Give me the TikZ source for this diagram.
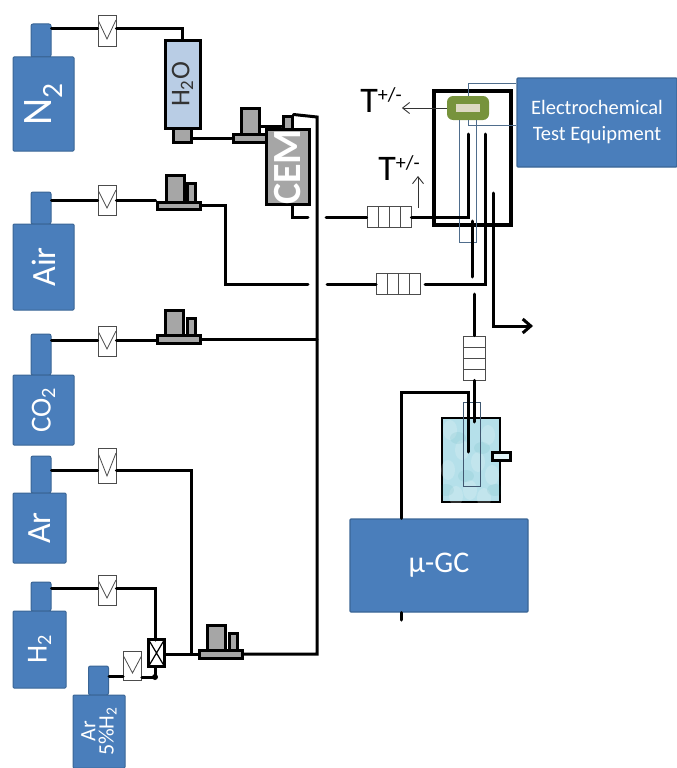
\documentclass[tikz,border=0pt]{standalone}
\usepackage{fontspec}
\setmainfont{Carlito}
\usetikzlibrary{calc,arrows.meta}
\definecolor{bluebox}{HTML}{4A7EBB}
\definecolor{blueedge}{HTML}{3A6595}
\definecolor{waterblue}{HTML}{B9CDE5}
\definecolor{bathblue}{HTML}{B5E0EA}
\definecolor{blockgray}{HTML}{A6A6A6}
\definecolor{cellgreen}{HTML}{77933C}
\definecolor{cellpale}{HTML}{DDD9C3}
\definecolor{wireblue}{HTML}{4F6D8C}
\newcommand{\tplusminus}{T\raisebox{11pt}{\fontsize{20}{20}\selectfont +/-}}
\tikzset{
  box/.style={draw, inner sep=0pt, minimum width=#1},
  bottle/.style={draw=blueedge, fill=bluebox, line width=1pt, rounded corners=1pt, inner sep=0pt, text=white},
  neckbox/.style={bottle, minimum width=20, rounded corners=2pt},
  pipe/.style={line width=3pt, line cap=round},
  thinarrow/.style={black!80, line width=0.9pt, -{Straight Barb[length=7pt,width=11pt]}},
  wire/.style={draw=wireblue, line width=1pt},
  valve/.style={draw=black!70, fill=white, line width=0.7pt, inner sep=0pt, minimum width=18,
    path picture={\draw[black!70, line width=0.8pt] ($(path picture bounding box.north west)+(0,5)$)
      -- ($(path picture bounding box.south)+(0,-7)$) -- ($(path picture bounding box.north east)+(0,5)$);}},
  crossvalve/.style={draw, fill=white, line width=3pt, inner sep=0pt, minimum width=16, minimum height=27,
    path picture={\draw[line width=1.2pt] (path picture bounding box.north west) -- (path picture bounding box.south east)
      (path picture bounding box.north east) -- (path picture bounding box.south west);}},
  greybox/.style={draw, fill=blockgray, line width=3pt, inner sep=0pt},
  tubeh/.style={draw=black!70, fill=white, line width=0.8pt, inner sep=0pt, minimum width=44, minimum height=21,
    path picture={\foreach \f in {.25,.5,.75}
      \draw[black!70, line width=0.8pt] ($(path picture bounding box.south west)!\f!(path picture bounding box.south east)$)
      -- ($(path picture bounding box.north west)!\f!(path picture bounding box.north east)$);}},
  tubev/.style={draw=black!70, fill=white, line width=0.8pt, inner sep=0pt, minimum width=22, minimum height=44,
    path picture={\foreach \f in {.25,.5,.75}
      \draw[black!70, line width=0.8pt] ($(path picture bounding box.south west)!\f!(path picture bounding box.north west)$)
      -- ($(path picture bounding box.south east)!\f!(path picture bounding box.north east)$);}},
  bigbox/.style={draw=blueedge, fill=bluebox, line width=1.2pt, rounded corners=1pt, inner sep=0pt, text=white},
}
\begin{document}
\begin{tikzpicture}[x=1pt,y=-1pt]
  \useasboundingbox (0,0) rectangle (677,768);

  % gas bottles
  \node[neckbox, minimum height=33] (neckntwo) at (41,40.5) {};
  \node[bottle, minimum width=61, minimum height=94] (ntwo) at (43.5,104)
    {\rotatebox{90}{\fontsize{42}{42}\selectfont N\textsubscript{2}}};
  \node[neckbox, minimum height=32] (neckair) at (41,208) {};
  \node[bottle, minimum width=61, minimum height=86] (air) at (43.5,267)
    {\rotatebox{90}{\fontsize{34}{34}\selectfont Air}};
  \node[neckbox, minimum height=41] (neckco) at (41,354.5) {};
  \node[bottle, minimum width=61, minimum height=70] (co) at (43.5,410)
    {\rotatebox{90}{\fontsize{29}{29}\selectfont CO\textsubscript{2}}};
  \node[neckbox, minimum height=37] (neckar) at (41,474.5) {};
  \node[bottle, minimum width=53, minimum height=70] (ar) at (39.5,528)
    {\rotatebox{90}{\fontsize{34}{34}\selectfont Ar}};
  \node[neckbox, minimum height=29] (neckh) at (41,596.5) {};
  \node[bottle, minimum width=53, minimum height=77] (h) at (39.5,649.5)
    {\rotatebox{90}{\fontsize{29}{29}\selectfont H\textsubscript{2}}};
  \node[neckbox, minimum height=29] (neckmix) at (98.5,680.5) {};
  \node[bottle, minimum width=52, minimum height=73] (mix) at (99,731.5)
    {\rotatebox{90}{\fontsize{22}{23}\selectfont\shortstack{Ar\\5\%H\textsubscript{2}}}};

  % valves
  \node[valve, minimum height=31] (valventwo) at (107,30.5) {};
  \node[valve, minimum height=30] (valveair) at (107,200) {};
  \node[valve, minimum height=30] (valveco) at (107,341) {};
  \node[valve, minimum height=35] (valvear) at (107,465.5) {};
  \node[valve, minimum height=30] (valveh) at (107,590) {};
  \node[valve, minimum height=29] (valvemix) at (132.5,665.5) {};
  \node[crossvalve] (cross) at (156.5,653) {};

  % humidifier and CEM
  \node[box=35, fill=waterblue, line width=3pt, minimum height=87, text=black!80] (water) at (182.5,84.5)
    {\rotatebox{90}{\fontsize{27}{27}\selectfont H\textsubscript{2}O}};
  \node[greybox, minimum width=18, minimum height=14] (waterout) at (182,135) {};
  \node[greybox, minimum width=9, minimum height=17] (cemtop) at (287.5,124.5) {};
  \node[greybox, minimum width=43, minimum height=68, text=white] (cem) at (287.5,167)
    {\rotatebox{90}{\fontsize{40}{40}\selectfont\bfseries\raisebox{-5pt}{CEM}}};

  % mass flow controllers
  \node[greybox, minimum width=18, minimum height=26] (mfcwaterblock) at (250,121) {};
  \node[greybox, minimum width=33, minimum height=8] (mfcwater) at (249.5,138) {};
  \node[greybox, minimum width=18, minimum height=27] (mfcairblock) at (175,188.5) {};
  \node[greybox, minimum width=8, minimum height=19] (mfcairsmall) at (191,192.5) {};
  \node[greybox, minimum width=43, minimum height=7] (mfcair) at (178.5,205.5) {};
  \node[greybox, minimum width=18, minimum height=25] (mfccoblock) at (174.5,322.5) {};
  \node[greybox, minimum width=8, minimum height=17] (mfccosmall) at (191,326.5) {};
  \node[greybox, minimum width=43, minimum height=8] (mfcco) at (179,339.5) {};
  \node[greybox, minimum width=18, minimum height=25] (mfcarblock) at (216,637.5) {};
  \node[greybox, minimum width=8, minimum height=17] (mfcarsmall) at (233,641.5) {};
  \node[greybox, minimum width=43, minimum height=8] (mfcar) at (221,654) {};

  % bath, drawn before its tubes
  \node[box=58, fill=bathblue, line width=2.2pt, minimum height=84] (bath) at (471,460) {};
  \begin{scope}
    \clip (bath.north west) rectangle (bath.south east);
    \foreach \x/\y in {450/430,462/450,448/470,470/490,488/435,492/475,478/462,456/496,484/498}
      \fill[white, opacity=0.18] (\x,\y) ellipse (7 and 10);
    \foreach \x/\y in {458/438,482/448,466/476,495/490,446/490}
      \fill[teal, opacity=0.07] (\x,\y) ellipse (8 and 6);
  \end{scope}
  \draw[wireblue!80!black, line width=0.8pt] (463,402) rectangle (480,486);
  \node[box=18, fill=bathblue!40, line width=2.6pt, minimum height=8] (bathport) at (501.5,456.5) {};

  % reactor
  \node[box=77, line width=3.2pt, minimum height=134] (reactor) at (472.5,158) {};
  \node[bigbox, minimum width=160, minimum height=89, align=center, font=\fontsize{20.5}{26}\selectfont] (echem) at (597,122.5)
    {\raisebox{-2pt}{Electrochemical}\\\raisebox{-2pt}{Test Equipment}};
  \node[draw=none, fill=cellgreen, rounded corners=6pt, minimum width=42, minimum height=24, inner sep=0pt] (cell) at (468,108) {};
  \node[fill=cellpale, minimum width=24, minimum height=8, inner sep=0pt] (cellin) at (468,108) {};
  \node[font=\fontsize{36}{36}\selectfont, inner sep=0pt] (tcell) at (381,100) {\tplusminus};
  \node[font=\fontsize{36}{36}\selectfont, inner sep=0pt] (ttube) at (399,168) {\tplusminus};
  \coordinate (wiretop) at (468,83);
  \coordinate (wirelow) at (468,125);
  \coordinate (loopleft) at (459,242);
  \coordinate (loopright) at (476,242);
  \draw[wire] (cell.north -| wiretop) -- (wiretop) -- (wiretop -| echem.west);
  \draw[wire] (cell.south -| wirelow) -- (wirelow) -- (wirelow -| echem.west);
  \draw[wire] (cell.south -| loopleft) -- (loopleft) -- (loopright) -- (cell.south -| loopright);
  \draw[thinarrow] (cell.west) -- (tcell.east |- cell.west);

  % tube blocks and GC
  \node[tubeh] (tubein) at (389,217) {};
  \node[tubeh] (tubeair) at (398.5,284) {};
  \node[tubev] (tubeout) at (474,358) {};
  \node[bigbox, minimum width=178, minimum height=93, font=\fontsize{30}{30}\selectfont] (gc) at (439,565.5) {µ-GC};
  \coordinate (tubeprobe) at (418,208);
  \draw[thinarrow] (tubeprobe) -- (418,176);

  % pipes from the bottles
  \draw[pipe] (neckntwo.east |- 0,29) -- (valventwo.west |- 0,29);
  \draw[pipe] (neckair.east |- valveair.west) -- (valveair.west);
  \draw[pipe] (neckco.east |- 0,340) -- (valveco.west |- 0,340);
  \draw[pipe] (neckar.east |- 0,470) -- (valvear.west |- 0,470);
  \draw[pipe] (neckh.east |- 0,588) -- (valveh.west |- 0,588);
  \draw[pipe] (neckmix.east |- 0,676) -- (valvemix.west |- 0,676);

  % pipes to the manifold
  \coordinate (manifoldtop) at (317,117);
  \coordinate (manifoldlow) at (317,654);
  \draw[pipe] (valventwo.east |- 0,29) -- (water.north |- 0,29) -- (water.north);
  \draw[pipe] (waterout.east |- mfcwater.west) -- (mfcwater.west);
  \draw[pipe] (mfcwaterblock.east |- 0,126) -- (cemtop.west |- 0,126);
  \draw[pipe] (cemtop.north east) -- (manifoldtop) -- (manifoldlow) -- (mfcar.east);
  \draw[pipe] (valveair.east) -- (mfcair.west |- valveair.east);
  \coordinate (airbend) at (225,284);
  \draw[pipe] (mfcair.east) -- (airbend |- mfcair.east) -- (airbend) -- (308,284);
  \draw[pipe] (327,284) -- (tubeair.west);
  \draw[pipe] (valveco.east |- 0,340) -- (mfcco.west |- 0,340);
  \draw[pipe] (mfcco.east) -- (mfcco.east -| manifoldtop);
  \draw[pipe] (valvear.east |- 0,470) -- (191,470) -- (191,654);
  \draw[pipe] (cross.east |- mfcar.west) -- (mfcar.west);
  \coordinate (mixjoin) at (155,677);
  \draw[pipe] (valveh.east |- 0,588) -- (155,588) -- (155,640);
  \draw[pipe] (valvemix.east |- mixjoin) -- (mixjoin) -- (mixjoin |- cross.south);
  \fill (mixjoin) circle (3);

  % pipes to the reactor
  \coordinate (cemout) at (292,217);
  \draw[pipe] (cem.south -| cemout) -- (cemout) -- (308,217);
  \draw[pipe] (326,217) -- (tubein.west);
  \draw[pipe] (tubein.east) -- (468,217) -- (468,134);
  \draw[pipe] (425,284) -- (485,284) -- (485,134);
  \draw[pipe] (472,221) -- (472,277);
  \draw[pipe] (474,294) -- (tubeout.north);
  \draw[pipe] (tubeout.south) -- (474,422);
  \draw[pipe] (468,452) -- (468,392) -- (401,392) -- (gc.north -| 401,392);
  \draw[pipe] (gc.south -| 401,392) -- (401,620);
  \draw[pipe, -{Straight Barb[length=8pt,width=14pt]}] (493,193) -- (493,326) -- (533,326);
\end{tikzpicture}
\end{document}
